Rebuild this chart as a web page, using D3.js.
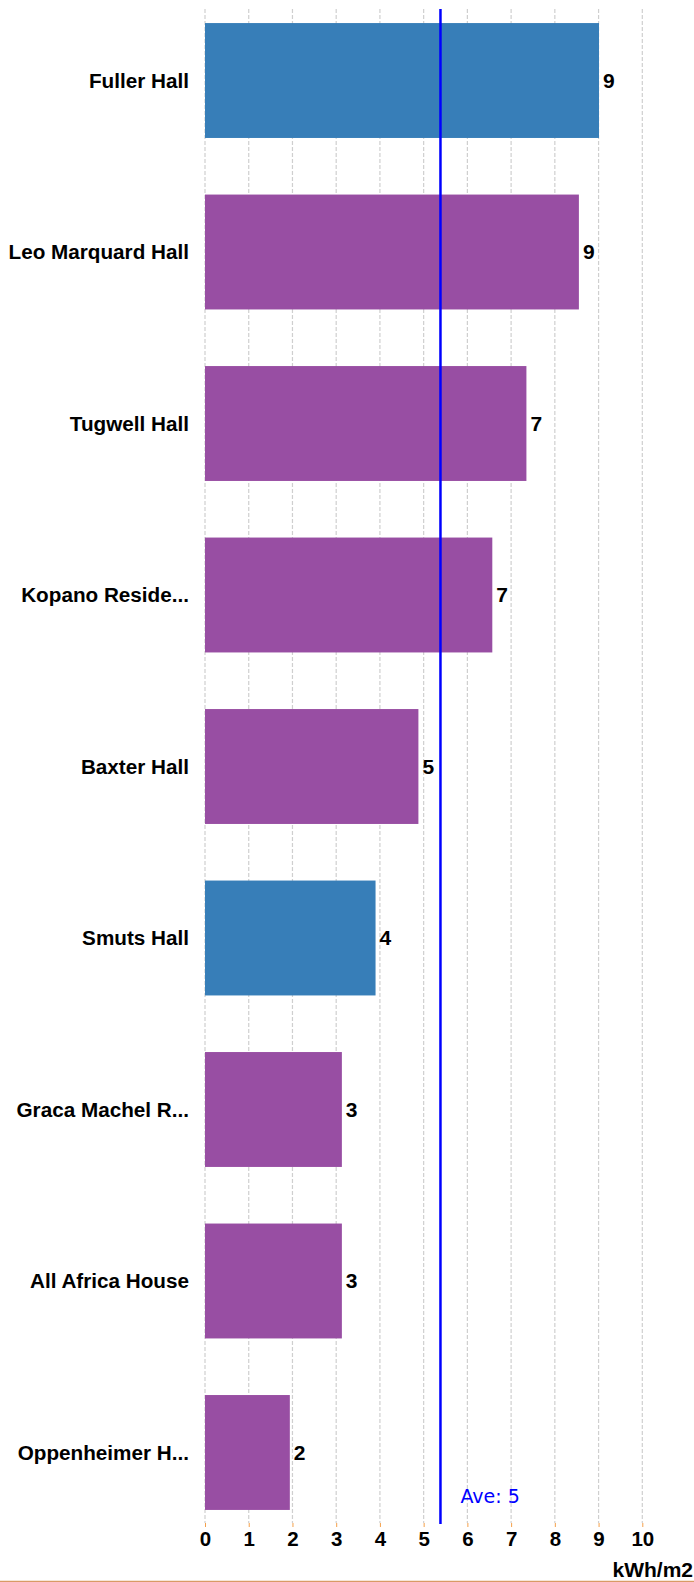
<!DOCTYPE html>
<html>
<head>
<meta charset="utf-8">
<script src="https://cdn.jsdelivr.net/npm/d3@7"></script>
<style>
  html, body { margin: 0; padding: 0; background: #fff; }
  svg { display: block; }
</style>
</head>
<body>
<svg id="chart" width="694" height="1582"></svg>
<script>
const categories = ["Fuller Hall", "Leo Marquard Hall", "Tugwell Hall", "Kopano Reside...", "Baxter Hall", "Smuts Hall", "Graca Machel R...", "All Africa House", "Oppenheimer H..."];
const values = [9.01, 8.55, 7.35, 6.57, 4.88, 3.90, 3.13, 3.13, 1.94];
const groups = ["blue", "purple", "purple", "purple", "purple", "blue", "purple", "purple", "purple"];
const xTicks = [0, 1, 2, 3, 4, 5, 6, 7, 8, 9, 10];
const unitLabel = "kWh/m2";
const avgPrefix = "Ave: ";

(function () {
const colors = { blue: "#377eb8", purple: "#984ea3" };
const data = categories.map((c, i) => ({ name: c, value: values[i], group: groups[i] }));
const FONT = "'Liberation Sans', Arial, sans-serif";

const svg = d3.select("#chart");
const plotLeft = 205, plotRight = 642.3, plotTop = 9, plotBottom = 1524;

const x = d3.scaleLinear().domain([0, 10]).range([plotLeft, plotRight]);
const y = d3.scaleBand().domain(categories).range([plotTop, plotBottom]).paddingInner(0.33).paddingOuter(0.082);

// grid lines
svg.append("g").selectAll("line").data(xTicks).join("line")
  .attr("x1", d => x(d)).attr("x2", d => x(d))
  .attr("y1", plotTop).attr("y2", plotBottom - 1)
  .attr("stroke", "#cfcfcf").attr("stroke-width", 1.2)
  .attr("stroke-dasharray", "4,2");

// bars
svg.append("g").selectAll("rect").data(data).join("rect")
  .attr("x", x(0)).attr("y", d => y(d.name))
  .attr("width", d => x(d.value) - x(0))
  .attr("height", y.bandwidth())
  .attr("fill", d => colors[d.group]);

// value labels
svg.append("g").selectAll("text").data(data).join("text")
  .attr("x", d => x(d.value) + 4)
  .attr("y", d => y(d.name) + y.bandwidth() / 2)
  .attr("dy", "0.35em")
  .attr("font-family", FONT)
  .attr("font-weight", "bold").attr("font-size", 21)
  .attr("fill", "#000")
  .text(d => d3.format(".0f")(d.value));

// category labels
svg.append("g").selectAll("text").data(data).join("text")
  .attr("x", plotLeft - 16)
  .attr("y", d => y(d.name) + y.bandwidth() / 2)
  .attr("dy", "0.35em")
  .attr("text-anchor", "end")
  .attr("font-family", FONT)
  .attr("font-weight", "bold").attr("font-size", 20.7)
  .attr("fill", "#000")
  .text(d => d.name);

// average line
const avg = d3.mean(values);
svg.append("line")
  .attr("x1", x(avg)).attr("x2", x(avg))
  .attr("y1", plotTop).attr("y2", plotBottom)
  .attr("stroke", "#0000ff").attr("stroke-width", 2.5);
svg.append("text")
  .attr("x", x(avg) + 20).attr("y", 1502.5)
  .attr("font-family", "'DejaVu Sans', Verdana, sans-serif")
  .attr("font-size", 19).attr("fill", "#0000ff")
  .text(avgPrefix + d3.format(".0f")(avg));

// x axis
const axis = d3.axisBottom(x).tickValues(xTicks).tickSize(4).tickFormat(d3.format("d"));
const gx = svg.append("g").attr("transform", `translate(0,${plotBottom - 1})`).call(axis);
gx.select(".domain").remove();
gx.selectAll(".tick line").attr("stroke", "#f5a04a").attr("stroke-width", 1);
gx.selectAll(".tick text")
  .attr("y", 8)
  .attr("fill", "#000")
  .attr("font-family", FONT)
  .attr("font-weight", "bold").attr("font-size", 20.5);

// unit label
svg.append("text")
  .attr("x", 693).attr("y", 1576.5)
  .attr("text-anchor", "end")
  .attr("font-family", FONT)
  .attr("font-weight", "bold").attr("font-size", 21)
  .attr("fill", "#000")
  .text(unitLabel);

// bottom border
svg.append("line")
  .attr("x1", 0).attr("x2", 694).attr("y1", 1581.5).attr("y2", 1581.5)
  .attr("stroke", "#d99a66").attr("stroke-width", 1.5);
})();
</script>
</body>
</html>
